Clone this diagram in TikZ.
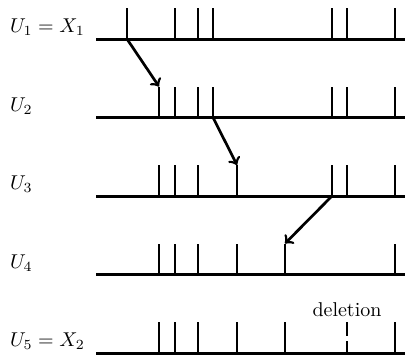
\documentclass[tikz,border=0pt]{standalone}
\usepackage{amsmath}
\tikzset{
  baseln/.style={line width=1.5pt},
  evt/.style={line width=1.2pt},
  jump/.style={->,line width=1.35pt},
}
\begin{document}
\begin{tikzpicture}[x=5pt,y=5pt]
  \useasboundingbox (0,0) rectangle (40.5,-36);
  \foreach \r/\xs/\lab in {1/{12.7,17.5,19.8,21.3,33.2,34.7,39.5}/{$U_1 = X_1$},
                           2/{15.9,17.5,19.8,21.3,33.2,34.7,39.5}/{$U_2$},
                           3/{15.9,17.5,19.8,23.7,33.2,34.7,39.5}/{$U_3$},
                           4/{15.9,17.5,19.8,23.7,28.5,39.5}/{$U_4$},
                           5/{15.9,17.5,19.8,23.7,28.5,39.5}/{$U_5 = X_2$}}{
    \pgfmathsetmacro{\yy}{-3.9-7.85*(\r-1)}
    \draw[baseln] (9.6,\yy) -- (40.5,\yy);
    \node[anchor=base west] (lab\r) at (0.3,\yy+0.65) {\lab};
    \foreach \x [count=\i] in \xs {
      \coordinate (b\r-\i) at (\x,\yy);
      \coordinate (t\r-\i) at (\x,\yy+3.1);
      \draw[evt] (b\r-\i) -- (t\r-\i);
    }
  }
  % the deleted point
  \coordinate (delb) at (34.7,-35.3);
  \coordinate (delt) at (34.7,-32.2);
  \draw[evt,dash pattern=on 7pt off 2.5pt] (delt) -- (delb);
  \node[above,inner sep=2.5pt] (del) at (delt) {deletion};
  % moves
  \draw[jump] (b1-1) -- (t2-1);
  \draw[jump] (b2-4) -- (t3-4);
  \draw[jump] (b3-5) -- (t4-5);
\end{tikzpicture}
\end{document}
